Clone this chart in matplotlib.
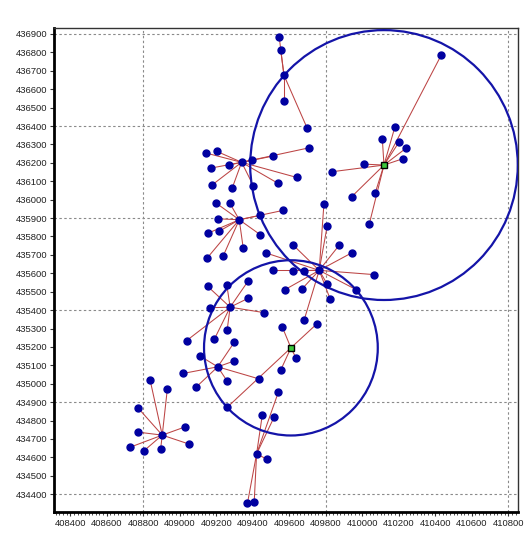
import matplotlib
matplotlib.use("Agg")
import matplotlib.pyplot as plt
from matplotlib.patches import Circle
from matplotlib.ticker import MultipleLocator, FuncFormatter

# ---- data (map coordinates) ----
# cluster centres (blue hub points)
hub_a = (409339, 436203)
hub_b = (409326, 435891)
hub_c = (409764, 435616)
hub_e = (409421, 434619)
hub_g = (409208, 435092)
hub_h = (409276, 435416)
hub_i = (408904, 434721)
hub_j = (409571, 436676)
# facility centres (green squares)
hub_d = (410119, 436188)
hub_f = (409609, 435195)

a_x = [409145, 409204, 409173, 409270, 409394, 409176, 409288, 409403, 409512, 409710, 409640, 409538]
a_y = [436253, 436262, 436172, 436188, 436214, 436079, 436065, 436076, 436237, 436282, 436121, 436089]

b_x = [409197, 409273, 409209, 409155, 409215, 409151, 409237, 409348, 409442, 409567, 409442]
b_y = [435983, 435983, 435896, 435818, 435828, 435684, 435692, 435735, 435915, 435942, 435809]

c_x = [409790, 409808, 409874, 409942, 410064, 409967, 409808, 409823, 409670, 409576, 409680, 409619, 409511, 409474, 409622, 409682]
c_y = [435978, 435858, 435753, 435711, 435593, 435511, 435541, 435463, 435515, 435511, 435615, 435615, 435616, 435710, 435753, 435348]

d_x = [410433, 410179, 410110, 410203, 410239, 410221, 410011, 409836, 410071, 409942, 410038]
d_y = [436786, 436396, 436328, 436315, 436279, 436222, 436193, 436152, 436037, 436016, 435866]

e_x = [409452, 409516, 409540, 409478, 409371, 409408]
e_y = [434829, 434817, 434954, 434590, 434351, 434360]

f_x = [409562, 409753, 409636, 409553, 409261]
f_y = [435308, 435327, 435142, 435074, 434873]

g_x = [409109, 409299, 409299, 409018, 409089, 409260, 409432]
g_y = [435152, 435226, 435124, 435056, 434981, 435014, 435027]

h_x = [409153, 409258, 409376, 409376, 409165, 409464, 409260, 409190, 409037]
h_y = [435529, 435536, 435560, 435465, 435413, 435386, 435294, 435243, 435234]

i_x = [408838, 408932, 408773, 408773, 409030, 409049, 408727, 408805, 408895]
i_y = [435018, 434972, 434867, 434737, 434766, 434673, 434655, 434637, 434644]

j_x = [409545, 409553, 409571, 409697]
j_y = [436882, 436813, 436534, 436391]

circle_radius_d = 733
circle_radius_f = 476

clusters = [
    (hub_a, a_x, a_y, False),
    (hub_b, b_x, b_y, False),
    (hub_c, c_x, c_y, False),
    (hub_d, d_x, d_y, True),
    (hub_e, e_x, e_y, False),
    (hub_f, f_x, f_y, True),
    (hub_g, g_x, g_y, False),
    (hub_h, h_x, h_y, False),
    (hub_i, i_x, i_y, False),
    (hub_j, j_x, j_y, False),
]

plt.rcParams['font.family'] = ['Liberation Sans', 'DejaVu Sans']

fig = plt.figure(figsize=(5.27, 5.45), dpi=100)
ax = fig.add_axes([0.1025, 0.0611, 0.881, 0.887])

xmin, xmax = 408311, 410855
ymin, ymax = 434305, 436931
ax.set_xlim(xmin, xmax)
ax.set_ylim(ymin, ymax)

line_col = '#BC4444'
pt_col = '#0000A0'
circ_col = '#1414A8'

# grid
for gx in [408800, 409800, 410800]:
    ax.axvline(gx, color='#8A8A8A', lw=0.8, ls=(0, (2.2, 2.2)), zorder=0)
for gy in [434400, 434900, 435400, 435900, 436400, 436900]:
    ax.axhline(gy, color='#8A8A8A', lw=0.8, ls=(0, (2.2, 2.2)), zorder=0)

# spokes
for hub, xs, ys, fac in clusters:
    for x, y in zip(xs, ys):
        ax.plot([hub[0], x], [hub[1], y], color=line_col, lw=0.75, zorder=2)

# circles
for hub, r in [(hub_d, circle_radius_d), (hub_f, circle_radius_f)]:
    ax.add_patch(Circle(hub, r, fill=False, edgecolor=circ_col, lw=1.6, zorder=3))

# points
for hub, xs, ys, fac in clusters:
    ax.plot(xs, ys, 'o', color=pt_col, ms=5.0, mec=pt_col, zorder=4)
    if fac:
        ax.plot([hub[0]], [hub[1]], 's', color='#3CC83C', mec='black', mew=1.0, ms=5.0, zorder=5)
    else:
        ax.plot([hub[0]], [hub[1]], 'o', color=pt_col, ms=5.0, mec=pt_col, zorder=4)

# ticks
ax.xaxis.set_major_locator(MultipleLocator(200))
ax.xaxis.set_minor_locator(MultipleLocator(20))
ax.yaxis.set_major_locator(MultipleLocator(100))
fmt = FuncFormatter(lambda v, p: f"{int(round(v))}")
ax.xaxis.set_major_formatter(fmt)
ax.yaxis.set_major_formatter(fmt)
ax.tick_params(axis='both', which='major', labelsize=6.8, length=3, width=0.8, color='#333333', pad=2)
ax.tick_params(axis='x', which='minor', length=2, width=0.6, color='#333333')
for lab in ax.get_xticklabels() + ax.get_yticklabels():
    lab.set_color('#222222')

ax.spines['left'].set_linewidth(2.0)
ax.spines['bottom'].set_linewidth(2.0)
ax.spines['left'].set_color('black')
ax.spines['bottom'].set_color('black')
ax.spines['top'].set_linewidth(1.0)
ax.spines['right'].set_linewidth(1.0)
ax.spines['top'].set_color('#333333')
ax.spines['right'].set_color('#333333')

fig.savefig('out.png', dpi=100)
